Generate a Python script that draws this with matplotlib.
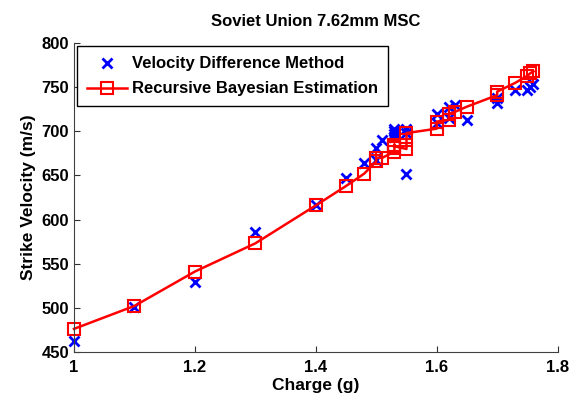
import matplotlib
matplotlib.use("Agg")
import matplotlib.pyplot as plt

plt.rcParams['font.family'] = ['Liberation Sans', 'DejaVu Sans']
plt.rcParams['font.weight'] = 'bold'

# charge (g) and the two velocity estimates (m/s)
charge = [1.00, 1.10, 1.20, 1.30, 1.40, 1.45, 1.48, 1.50, 1.50, 1.51,
          1.53, 1.53, 1.53, 1.53, 1.55, 1.55, 1.55, 1.60, 1.60, 1.62,
          1.62, 1.63, 1.65, 1.70, 1.70, 1.73, 1.75, 1.755, 1.76]
vdm = [462, 501, 529, 586, 616, 647, 664, 668, 681, 690,
       694, 697, 700, 703, 652, 698, 703, 710, 720, 715,
       728, 730, 713, 732, 738, 747, 747, 750, 754]
rbe = [476, 502, 541, 573, 616, 638, 652, 666, 670, 670,
       677, 681, 685, 683, 680, 690, 698, 703, 711, 713,
       720, 722, 728, 741, 745, 755, 763, 766, 768]

xticks = [1, 1.2, 1.4, 1.6, 1.8]
yticks = [450, 500, 550, 600, 650, 700, 750, 800]

fig = plt.figure(figsize=(5.87, 4.03), dpi=100)
axes = fig.add_axes([0.126, 0.127, 0.824, 0.766])

axes.plot(charge, vdm, 'x', color='blue', markersize=7, markeredgewidth=2,
          clip_on=False, label='Velocity Difference Method')
axes.plot(charge, rbe, 's-', color='red', markersize=8, markerfacecolor='none',
          markeredgewidth=1.5, linewidth=1.8, clip_on=False,
          label='Recursive Bayesian Estimation')

axes.set_xlim(1, 1.8)
axes.set_ylim(450, 800)
axes.set_xticks(xticks, ['1', '1.2', '1.4', '1.6', '1.8'])
axes.set_yticks(yticks)
axes.tick_params(direction='in', length=4, labelsize=12, colors='#303030',
                 labelcolor='black')
axes.tick_params(axis='x', pad=6)
for s in ['top', 'right']:
    axes.spines[s].set_visible(False)
for s in ['left', 'bottom']:
    axes.spines[s].set_color('#404040')

axes.set_title('Soviet Union 7.62mm MSC', fontsize=12, fontweight='bold', pad=12)
axes.set_xlabel('Charge (g)', fontsize=12.5, fontweight='bold', labelpad=2)
axes.set_ylabel('Strike Velocity (m/s)', fontsize=12.5, fontweight='bold')

leg = axes.legend(loc='upper left', bbox_to_anchor=(0, 1), fontsize=12,
                  fancybox=False, framealpha=1, edgecolor='black',
                  handlelength=2.4, handletextpad=0.3, borderaxespad=0.2,
                  borderpad=0.6, labelspacing=0.6)
leg.get_frame().set_linewidth(1.0)

fig.savefig('out.png', dpi=100)
